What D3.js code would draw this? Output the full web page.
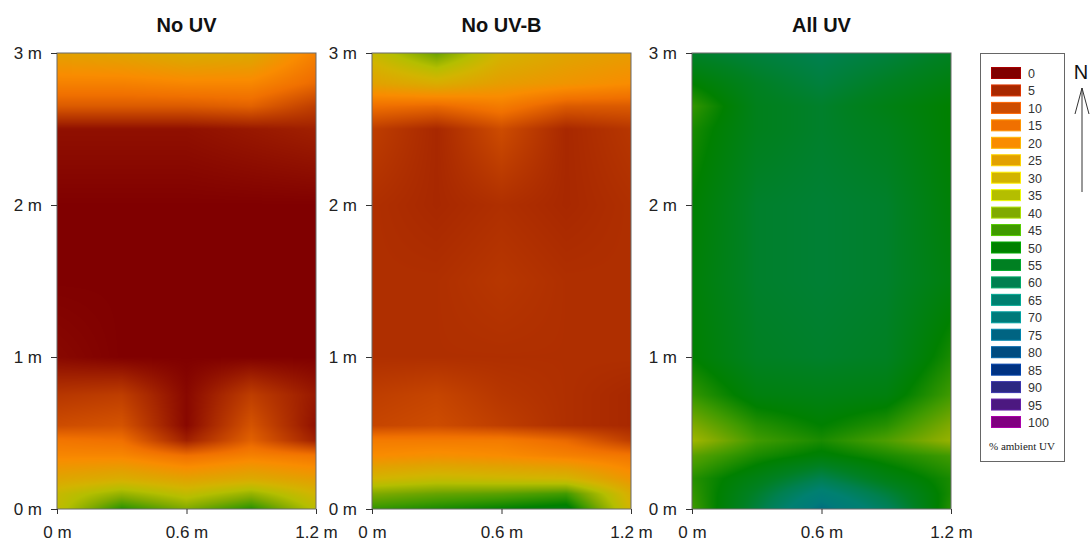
<!DOCTYPE html>
<html lang="en">
<head>
<meta charset="UTF-8">
<title>% ambient UV maps</title>
<script src="https://cdnjs.cloudflare.com/ajax/libs/d3/7.8.5/d3.min.js"></script>
<style>
    body {
        margin: 0;
        background: #ffffff;
        font-family: 'Liberation Sans', Arial, sans-serif;
    }
    .title { font-weight: bold; font-size: 20px; fill: #111; }
    .tick-label { font-size: 17px; fill: #222; }
    .legend-label { font-size: 12.5px; fill: #333; }
</style>
</head>
<body>
<div id="chart"></div>
<script>
// grid positions (m)
const xNodes = [0, 0.3, 0.6, 0.9, 1.2];
const yNodes = [0, 0.1, 0.2, 0.35, 0.45, 0.55, 0.75, 1.0, 1.5, 2.0, 2.5, 2.65, 2.8, 3.0];

// % ambient UV, one row per yNode (bottom to top), one column per xNode
const noUV = [
    [33, 47, 40, 47, 34],
    [32, 38, 33, 38, 30],
    [26, 28, 25, 27, 24],
    [19, 19, 15, 18, 16],
    [16, 15, 4, 13, 4],
    [10, 11, 1, 11, 2],
    [7, 8, 1, 8, 3],
    [1, 0, 0, 0, 0],
    [0, 0, 0, 0, 0],
    [0, 0, 0, 0, 0],
    [2, 2, 2, 3, 4],
    [12, 12, 12, 13, 8],
    [18, 18, 19, 19, 14],
    [25, 26, 28, 27, 18]
];
const noUVB = [
    [46, 48, 50, 52, 30],
    [40, 42, 43, 45, 28],
    [30, 32, 31, 30, 22],
    [20, 21, 20, 18, 16],
    [17, 17, 17, 14, 8],
    [9, 10, 8, 6, 5],
    [8, 9, 7, 6, 5],
    [6, 6, 6, 6, 6],
    [6, 6, 7, 6, 6],
    [6, 5, 6, 5, 6],
    [8, 5, 10, 5, 7],
    [15, 14, 17, 12, 12],
    [25, 28, 24, 22, 20],
    [32, 42, 30, 26, 24]
];
const allUV = [
    [45, 58, 73, 62, 47],
    [46, 56, 67, 58, 48],
    [47, 53, 60, 53, 48],
    [43, 48, 51, 48, 45],
    [37, 45, 48, 44, 38],
    [40, 47, 50, 47, 40],
    [46, 52, 53, 52, 45],
    [50, 55, 56, 55, 48],
    [51, 56, 57, 56, 52],
    [50, 56, 57, 56, 51],
    [48, 54, 56, 54, 50],
    [46, 54, 56, 53, 50],
    [50, 55, 58, 55, 52],
    [56, 58, 60, 58, 55]
];

const panelTitles = ["No UV", "No UV-B", "All UV"];
const panelData = [noUV, noUVB, allUV];

const legendValues = [0, 5, 10, 15, 20, 25, 30, 35, 40, 45, 50, 55, 60, 65, 70, 75, 80, 85, 90, 95, 100];
const legendColors = ["#800000", "#a82800", "#cd4c00", "#f07000", "#f98c00", "#e2a100", "#d2b400",
    "#b4be00", "#80aa00", "#409a00", "#008000", "#008022", "#008050", "#008070", "#007a7a",
    "#006482", "#004c80", "#003282", "#2c2882", "#4c1880", "#800080"];

const yTicks = [0, 1, 2, 3];
const xTicks = [0, 0.6, 1.2];

const W = 1091, H = 544;
const panelLefts = [57, 372, 692];
const panelW = 259;
const plotTop = 53, plotBottom = 509;

const color = d3.scaleLinear().domain(legendValues).range(legendColors).interpolate(d3.interpolateRgb).clamp(true);

const svg = d3.select("#chart").append("svg")
    .attr("width", W)
    .attr("height", H);

const fmt = d => d + " m";

function sample(grid, xm, ym) {
    let i = Math.min(Math.max(d3.bisectRight(xNodes, xm) - 1, 0), xNodes.length - 2);
    let j = Math.min(Math.max(d3.bisectRight(yNodes, ym) - 1, 0), yNodes.length - 2);
    const tx = Math.min(Math.max((xm - xNodes[i]) / (xNodes[i + 1] - xNodes[i]), 0), 1);
    const ty = Math.min(Math.max((ym - yNodes[j]) / (yNodes[j + 1] - yNodes[j]), 0), 1);
    const a = grid[j][i], b = grid[j][i + 1], c = grid[j + 1][i], d = grid[j + 1][i + 1];
    return (a * (1 - tx) + b * tx) * (1 - ty) + (c * (1 - tx) + d * tx) * ty;
}

panelData.forEach((grid, k) => {
    const x = d3.scaleLinear().domain([0, 1.2]).range([panelLefts[k], panelLefts[k] + panelW]);
    const y = d3.scaleLinear().domain([0, 3]).range([plotBottom, plotTop]);
    const g = svg.append("g");

    // field image
    const cw = panelW, ch = plotBottom - plotTop;
    const canvas = document.createElement("canvas");
    canvas.width = cw; canvas.height = ch;
    const ctx = canvas.getContext("2d");
    const img = ctx.createImageData(cw, ch);
    for (let py = 0; py < ch; py++) {
        const ym = y.invert(plotTop + py + 0.5);
        for (let px = 0; px < cw; px++) {
            const xm = x.invert(panelLefts[k] + px + 0.5);
            const c = d3.rgb(color(sample(grid, xm, ym)));
            const o = (py * cw + px) * 4;
            img.data[o] = c.r; img.data[o + 1] = c.g; img.data[o + 2] = c.b; img.data[o + 3] = 255;
        }
    }
    ctx.putImageData(img, 0, 0);
    g.append("image")
        .attr("x", x(0)).attr("y", y(3))
        .attr("width", cw).attr("height", ch)
        .attr("preserveAspectRatio", "none")
        .attr("href", canvas.toDataURL());

    g.append("rect")
        .attr("x", x(0)).attr("y", y(3))
        .attr("width", cw).attr("height", ch)
        .attr("fill", "none")
        .attr("stroke", "#6a6a6a")
        .attr("stroke-width", 1);

    const ya = g.append("g")
        .attr("transform", `translate(${x(0)},0)`)
        .call(d3.axisLeft(y).tickValues(yTicks).tickFormat(fmt).tickSize(6).tickPadding(9));
    const xa = g.append("g")
        .attr("transform", `translate(0,${plotBottom})`)
        .call(d3.axisBottom(x).tickValues(xTicks).tickFormat(fmt).tickSize(5).tickPadding(12));
    [ya, xa].forEach(a => {
        a.select(".domain").remove();
        a.selectAll("line").attr("stroke", "#333");
        a.selectAll("text").attr("class", "tick-label").attr("font-size", null).attr("font-family", null);
    });

    g.append("text")
        .attr("class", "title")
        .attr("x", x(0.6))
        .attr("y", 32)
        .attr("text-anchor", "middle")
        .text(panelTitles[k]);
});

// legend
const legend = svg.append("g");
legend.append("rect")
    .attr("x", 980.5).attr("y", 53.5)
    .attr("width", 84).attr("height", 408)
    .attr("fill", "#fff")
    .attr("stroke", "#666");

const ly = d3.scaleLinear().domain([0, 100]).range([73, 422]);
legendValues.forEach((v, i) => {
    legend.append("rect")
        .attr("x", 991.5).attr("y", ly(v) - 5.5)
        .attr("width", 29).attr("height", 11)
        .attr("fill", legendColors[i])
        .attr("stroke", d3.rgb(legendColors[i]).brighter(0.8))
        .attr("stroke-width", 1);
    legend.append("text")
        .attr("class", "legend-label")
        .attr("x", 1028)
        .attr("y", ly(v) + 5)
        .text(v);
});
legend.append("text")
    .attr("x", 1022).attr("y", 450)
    .attr("text-anchor", "middle")
    .attr("font-family", "'Liberation Serif', 'Times New Roman', serif")
    .attr("font-size", 11)
    .attr("fill", "#222")
    .text("% ambient UV");

// north arrow
const north = svg.append("g").attr("stroke", "#333").attr("stroke-width", 1).attr("fill", "none");
north.append("line").attr("x1", 1082).attr("y1", 88).attr("x2", 1082).attr("y2", 192);
north.append("line").attr("x1", 1082).attr("y1", 88).attr("x2", 1075).attr("y2", 114);
north.append("line").attr("x1", 1082).attr("y1", 88).attr("x2", 1089).attr("y2", 114);
svg.append("text")
    .attr("x", 1081).attr("y", 79)
    .attr("text-anchor", "middle")
    .attr("font-size", 20)
    .attr("fill", "#111")
    .text("N");
</script>
</body>
</html>
